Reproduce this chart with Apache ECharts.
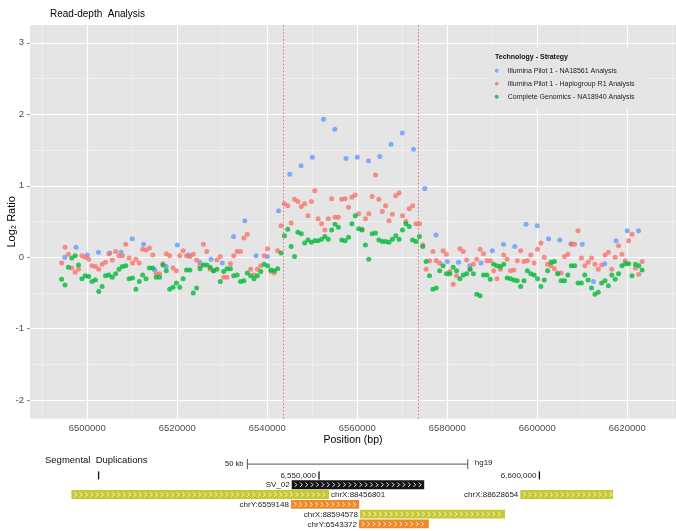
<!DOCTYPE html>
<html><head><meta charset="utf-8">
<script src="https://cdn.jsdelivr.net/npm/echarts@6/dist/echarts.min.js"></script>
<style>html,body{margin:0;padding:0;background:#fff}#c{width:676px;height:531px}</style>
</head><body><div id="c"></div><script>
// ---------------- data ----------------
const seriesNames = ['Illumina Pilot 1 - NA18561 Analysis', 'Illumina Pilot 1 - Haplogroup R1 Analysis', 'Complete Genomics - NA18940 Analysis'];
const seriesColors = ['#619CFF', '#F8766D', '#00BA38'];

// window layout (bp)
const blueWindowStart = 6495000, blueWindowStep = 2500;
const fineWindowStart = 6494300, fineWindowStep = 750;

const blueValues = [0.00, 0.14, 0.03, 0.07, 0.06, 0.07, 0.26, 0.18, -0.18, -0.13,
  0.17, 0.03, -0.07, -0.03, -0.08, 0.29, 0.51, 0.02, 0.01, 0.65,
  1.16, 1.28, 1.40, 1.93, 1.79, 1.38, 1.40, 1.35, 1.41, 1.58,
  1.74, 1.51, 0.96, 0.31, -0.06, -0.07, -0.12, -0.08, 0.09, 0.18,
  0.15, 0.46, 0.44, 0.26, 0.24, 0.19, 0.18, -0.34, -0.09, 0.23,
  0.37, 0.37];

const redValues = [-0.08, 0.14, 0.04, -0.15, -0.21, -0.17, 0.02, 0.00, -0.03, -0.12,
  -0.13, -0.17, -0.10, -0.07, 0.05, -0.04, 0.08, 0.02, 0.02, 0.18,
  -0.01, -0.08, -0.03, -0.08, 0.11, 0.10, 0.13, 0.03, -0.23, -0.23,
  -0.09, 0.05, 0.02, -0.15, -0.19, 0.02, 0.09, 0.02, 0.01, 0.04,
  -0.04, -0.12, 0.18, 0.08, -0.17, -0.19, -0.04, 0.01, -0.28, -0.28,
  -0.09, 0.02, 0.08, 0.08, 0.27, 0.32, -0.17, -0.25, -0.17, -0.12,
  0.02, 0.12, -0.20, -0.22, 0.09, 0.44, 0.75, 0.72, 0.48, 0.81,
  0.78, 0.71, 0.75, 0.58, 0.78, 0.93, 0.54, 0.47, 0.38, 0.54,
  0.82, 0.56, 0.56, 0.81, 0.82, 0.70, 0.84, 0.87, 0.61, 0.39,
  0.54, 0.61, 0.85, 1.15, 0.81, 0.64, 0.72, 0.51, 0.60, 0.86,
  0.90, 0.58, 0.50, 0.68, 0.72, 0.47, 0.47, 0.17, -0.17, -0.05,
  0.08, -0.05, -0.08, 0.09, 0.04, -0.20,
  -0.38, -0.26, 0.12, 0.08, -0.04, -0.17, -0.10, -0.03, 0.11, 0.05,
  -0.05, -0.05, -0.19, -0.30, -0.17, 0.03, -0.03, -0.19, -0.18, -0.05,
  0.09, -0.06, -0.05, 0.03, -0.08, 0.11, 0.20, 0.00, -0.10, -0.12,
  -0.16, -0.22, -0.22, 0.01, 0.04, 0.18, 0.18, 0.37, -0.01, -0.12,
  -0.07, -0.01, -0.10, -0.17, -0.11, 0.03, 0.07, -0.17, 0.00, 0.16,
  0.04, -0.05, 0.23, 0.32, -0.15, -0.24, -0.06];

const greenValues = [-0.31, -0.39, -0.14, -0.01, 0.02, -0.11, -0.30, -0.26, -0.27, -0.34,
  -0.32, -0.48, -0.41, -0.26, -0.25, -0.28, -0.23, -0.17, -0.13, -0.12,
  -0.30, -0.29, -0.45, -0.34, -0.25, -0.30, -0.15, -0.15, -0.28, -0.28,
  -0.11, -0.19, -0.45, -0.42, -0.36, -0.42, -0.30, -0.18, -0.18, -0.50,
  -0.43, -0.16, -0.11, -0.11, -0.14, -0.19, -0.17, -0.34, -0.20, -0.16,
  -0.16, -0.26, -0.25, -0.34, -0.33, -0.22, -0.26, -0.30, -0.26, -0.20,
  -0.10, -0.12, -0.18, -0.19, -0.16, 0.06, 0.30, 0.39, 0.15, 0.01,
  0.35, 0.33, 0.20, 0.24, 0.21, 0.23, 0.23, 0.25, 0.29, 0.25,
  0.38, 0.46, 0.42, 0.24, 0.23, 0.28, 0.47, 0.58, 0.40, 0.38,
  0.17, -0.03, 0.33, 0.34, 0.24, 0.22, 0.22, 0.21, 0.25, 0.30,
  0.25, 0.38, 0.47, 0.43, 0.24, 0.22, 0.29, 0.15, -0.06, -0.26,
  -0.45, -0.43, -0.19, -0.12, -0.23, -0.23,
  -0.14, -0.19, -0.30, -0.25, -0.23, -0.17, -0.23, -0.52, -0.54, -0.25,
  -0.25, -0.31, -0.10, -0.12, -0.13, -0.10, -0.29, -0.30, -0.32, -0.33,
  -0.41, -0.33, -0.19, -0.23, -0.25, -0.30, -0.41, -0.32, -0.19, -0.07,
  -0.06, -0.23, -0.33, -0.33, -0.25, -0.12, -0.12, -0.36, -0.36, -0.25,
  -0.32, -0.43, -0.52, -0.49, -0.36, -0.33, -0.40, -0.25, -0.31, -0.23,
  -0.12, -0.09, -0.09, -0.26, -0.10, -0.12, -0.18];

const xTickValues = [6500000, 6520000, 6540000, 6560000, 6580000, 6600000, 6620000];
const xMinorValues = [6490000, 6510000, 6530000, 6550000, 6570000, 6590000, 6610000, 6630000];
const yTickValues = [-2, -1, 0, 1, 2, 3];
const yMinorValues = [-1.5, -0.5, 0.5, 1.5, 2.5];
const svBreakpoints = [6543550, 6573550];

// Segmental duplication track (UCSC, hg19)
const trackStarts = [6543807, 6493830, 6595667, 6543625, 6559301, 6559074];
const trackEnds = [6573866, 6552269, 6616697, 6559120, 6592196, 6574909];
const trackLanes = [0, 1, 1, 2, 3, 4];
const trackNames = ['SV_02', 'chrX:88456801', 'chrX:88628654', 'chrY:6559148', 'chrX:88594578', 'chrY:6543372'];
const trackKinds = ['sv', 'chrX', 'chrX', 'chrY', 'chrX', 'chrY'];
const trackLabelSide = ['left', 'right', 'left', 'left', 'left', 'left'];
const rulerTicks = [6500000, 6550000, 6600000];
const rulerLabels = ['', '6,550,000', '6,600,000'];
const scaleBar = [6533750, 6583750];

// ---------------- chart ----------------
const FONT = 'Liberation Sans, Arial, Helvetica, sans-serif';
const KIND_COLORS = { sv: '#151515', chrX: '#C8C834', chrY: '#EC8A2C' };
const RULER_LANE = -0.95, SCALE_LANE = -2.1;

const pts = (vals, start, step) => vals.map((v, i) => [start + i * step, v]);

const gridLines = [].concat(
  xMinorValues.map(v => ({ xAxis: v, lineStyle: { color: '#F2F2F2', width: 0.7, type: 'solid' } })),
  yMinorValues.map(v => ({ yAxis: v, lineStyle: { color: '#F2F2F2', width: 0.7, type: 'solid' } })),
  xTickValues.map(v => ({ xAxis: v, lineStyle: { color: '#FFFFFF', width: 1.2, type: 'solid' } })),
  yTickValues.map(v => ({ yAxis: v, lineStyle: { color: '#FFFFFF', width: 1.2, type: 'solid' } }))
);

function renderFeature(params, api) {
  const i = params.dataIndex;
  const p0 = api.coord([api.value(0), api.value(2)]);
  const p1 = api.coord([api.value(1), api.value(2)]);
  const h = api.size([0, 0.9])[1];
  const x0 = p0[0], x1 = p1[0], cy = p0[1];
  const children = [{ type: 'rect', shape: { x: x0, y: cy - h / 2, width: x1 - x0, height: h }, style: { fill: KIND_COLORS[trackKinds[i]] } }];
  for (let x = x0 + 3; x + 3 < x1; x += 5.4) {
    children.push({ type: 'polyline', shape: { points: [[x, cy - 2.2], [x + 2.2, cy], [x, cy + 2.2]] }, style: { stroke: '#ffffff', lineWidth: 0.9, fill: null } });
  }
  const left = trackLabelSide[i] === 'left';
  children.push({ type: 'text', x: left ? x0 - 2 : x1 + 2, y: cy + 0.5,
    style: { text: trackNames[i], fill: '#222', fontSize: 8, fontFamily: FONT, align: left ? 'right' : 'left', verticalAlign: 'middle' } });
  return { type: 'group', children };
}

function renderRuler(params, api) {
  const i = params.dataIndex;
  const p = api.coord([api.value(0), api.value(1)]);
  const children = [{ type: 'line', shape: { x1: p[0], y1: p[1] - 4, x2: p[0], y2: p[1] + 4 }, style: { stroke: '#111', lineWidth: 1.3 } }];
  if (rulerLabels[i]) children.push({ type: 'text', x: p[0] - 3, y: p[1], style: { text: rulerLabels[i], fill: '#222', fontSize: 8, fontFamily: FONT, align: 'right', verticalAlign: 'middle' } });
  return { type: 'group', children };
}

function renderScale(params, api) {
  const a = api.coord([api.value(0), api.value(2)]);
  const b = api.coord([api.value(1), api.value(2)]);
  const s = { stroke: '#555', lineWidth: 1 };
  return { type: 'group', children: [
    { type: 'line', shape: { x1: a[0], y1: a[1], x2: b[0], y2: b[1] }, style: s },
    { type: 'line', shape: { x1: a[0], y1: a[1] - 5, x2: a[0], y2: a[1] + 5 }, style: s },
    { type: 'line', shape: { x1: b[0], y1: b[1] - 5, x2: b[0], y2: b[1] + 5 }, style: s },
    { type: 'text', x: a[0] - 4, y: a[1], style: { text: '50 kb', fill: '#222', fontSize: 7.5, fontFamily: FONT, align: 'right', verticalAlign: 'middle' } },
    { type: 'text', x: b[0] + 7, y: a[1] - 1, style: { text: 'hg19', fill: '#222', fontSize: 8, fontFamily: FONT, align: 'left', verticalAlign: 'middle' } }
  ] };
}

const chart = echarts.init(document.getElementById('c'), null, { renderer: 'canvas' });
chart.setOption({
  animation: false,
  backgroundColor: '#ffffff',
  textStyle: { fontFamily: FONT },
  title: { text: 'Read-depth  Analysis', left: 45, top: 4, textStyle: { fontSize: 10, fontWeight: 'normal', color: '#000', fontFamily: FONT } },
  grid: [
    { left: 30, right: 0, top: 25, bottom: 112.3, show: true, backgroundColor: '#E5E5E5', borderWidth: 0, outerBoundsMode: 'none' },
    { left: 30, right: 0, top: 455, height: 76, show: false, outerBoundsMode: 'none' }
  ],
  xAxis: [
    { type: 'value', gridIndex: 0, min: 6487267, max: 6630822,
      axisLine: { show: false }, splitLine: { show: false },
      axisTick: { show: true, length: 3, customValues: xTickValues, lineStyle: { color: '#8a8a8a' } },
      axisLabel: { customValues: xTickValues, formatter: v => String(v), fontSize: 9.5, color: '#4d4d4d', margin: 5, fontFamily: FONT },
      name: 'Position (bp)', nameLocation: 'middle', nameGap: 16, nameMoveOverlap: false,
      nameTextStyle: { fontSize: 10.5, color: '#000', fontFamily: FONT } },
    { type: 'value', gridIndex: 1, min: 6484437, max: 6630989, show: false }
  ],
  yAxis: [
    { type: 'value', gridIndex: 0, min: -2.26, max: 3.25,
      axisLine: { show: false }, splitLine: { show: false },
      axisTick: { show: true, length: 3, customValues: yTickValues, lineStyle: { color: '#8a8a8a' } },
      axisLabel: { customValues: yTickValues, fontSize: 9.5, color: '#4d4d4d', margin: 6, fontFamily: FONT },
      name: 'Log\u2082 Ratio', nameLocation: 'middle', nameGap: 13, nameRotate: 90, nameMoveOverlap: false,
      nameTextStyle: { fontSize: 11, color: '#000', fontFamily: FONT } },
    { type: 'value', gridIndex: 1, min: -3.03, max: 4.72, inverse: true, show: false }
  ],
  legend: {
    data: seriesNames, orient: 'vertical', left: 494.7, top: 66.2, z: 20, padding: 0,
    icon: 'circle', itemWidth: 12, itemHeight: 4, itemGap: 4,
    textStyle: { fontSize: 7, lineHeight: 9, color: '#222', fontFamily: FONT, padding: 0 }
  },
  graphic: [
    { type: 'rect', z: 10, silent: true, shape: { x: 488, y: 48, width: 156, height: 61 }, style: { fill: '#E5E5E5' } },
    { type: 'text', z: 11, x: 495, y: 57.3, style: { text: 'Technology - Strategy', fontSize: 7, fontWeight: 'bold', fill: '#111', fontFamily: FONT, align: 'left', verticalAlign: 'middle' } },
    { type: 'text', z: 11, x: 45, y: 460.5, style: { text: 'Segmental  Duplications', fontSize: 9.5, fill: '#111', fontFamily: FONT, align: 'left', verticalAlign: 'middle' } }
  ],
  series: [
    { name: seriesNames[0], type: 'scatter', xAxisIndex: 0, yAxisIndex: 0, z: 2, symbolSize: 5,
      itemStyle: { color: seriesColors[0] }, data: pts(blueValues, blueWindowStart, blueWindowStep),
      markLine: { silent: true, z: 1, symbol: ['none', 'none'], label: { show: false }, animation: false, data: gridLines } },
    { name: seriesNames[1], type: 'scatter', xAxisIndex: 0, yAxisIndex: 0, z: 2, symbolSize: 5,
      itemStyle: { color: seriesColors[1] }, data: pts(redValues, fineWindowStart, fineWindowStep) },
    { name: seriesNames[2], type: 'scatter', xAxisIndex: 0, yAxisIndex: 0, z: 2, symbolSize: 5,
      itemStyle: { color: seriesColors[2] }, data: pts(greenValues, fineWindowStart, fineWindowStep),
      markLine: { silent: true, z: 3, symbol: ['none', 'none'], label: { show: false }, animation: false,
        data: svBreakpoints.map(v => ({ xAxis: v, lineStyle: { color: '#E8736B', width: 1, type: [1.5, 2] } })) } },
    { type: 'custom', xAxisIndex: 1, yAxisIndex: 1, clip: false, silent: true, renderItem: renderScale,
      data: [[scaleBar[0], scaleBar[1], SCALE_LANE]] },
    { type: 'custom', xAxisIndex: 1, yAxisIndex: 1, clip: false, silent: true, renderItem: renderRuler,
      data: rulerTicks.map(p => [p, RULER_LANE]) },
    { type: 'custom', xAxisIndex: 1, yAxisIndex: 1, clip: false, silent: true, renderItem: renderFeature,
      data: trackStarts.map((s, i) => [s, trackEnds[i], trackLanes[i]]) }
  ]
});
</script></body></html>
